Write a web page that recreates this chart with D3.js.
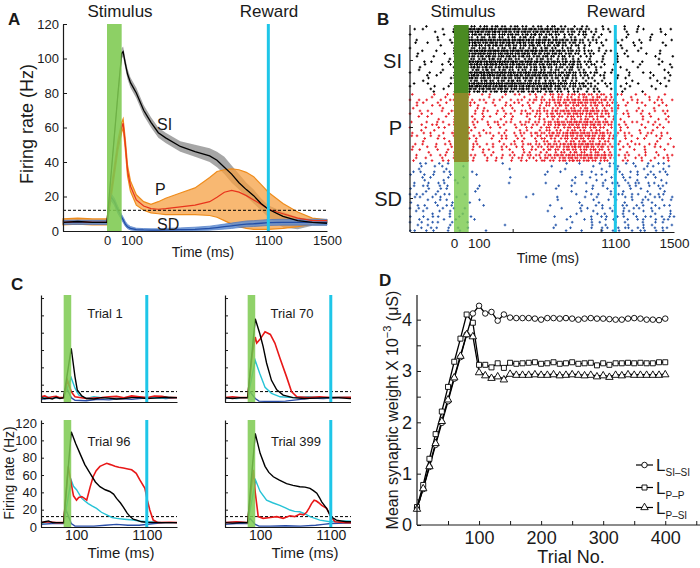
<!DOCTYPE html>
<html><head><meta charset="utf-8">
<script src="https://cdn.jsdelivr.net/npm/d3@7"></script>
<style>body{margin:0;background:#fff}svg{display:block}</style>
</head><body>
<svg id="c" width="700" height="568"></svg>
<script>
// ---------------- DATA ----------------
// Panel A: mean firing rate (Hz) with bands
const tA = [-300,-200,-100,0,25,50,75,100,110,125,140,160,200,250,300,350,400,500,600,700,750,800,850,900,950,1000,1050,1100,1200,1300,1400,1500];
const SI_mean = [5,5.5,5,5,30,55,80,103,104,97,91,86,80,70,63,57,54,49,46,43.5,41,37,33,28,24,20.5,16,12.6,8.5,6,5,4.5];
const SI_hi   = [6.5,7,6.5,6.5,32,58,83,106,107,100,94,89,83,73,66,60,57,52,50,48,46,43,38,33,28,24,19,15,11,8,6.5,6];
const SI_lo   = [4,4,4,4,28,52,77,100,101,94,88,83,77,67,60,54,51,46,43,40,37,33,28,24,20,16,12,8,2,1,3,3];
const P_mean  = [5,5.5,5,5,20,35,50,60,62.5,50,35,26,18,14.5,13,12.6,13,14,15,17,19.5,22.5,23.5,22.5,20.5,18,15.5,12.6,10,7.5,6,6];
const P_hi    = [7,7.5,7,7,23,38,53,63,65,53,38,29,21,17,15.5,17,19,22,25,31,34.5,35.5,36,35.5,34,31.5,27,22.5,16,11,7.5,6.5];
const P_lo    = [3.5,4,3.5,3.5,17,32,47,57,60,47,32,23,15,12,10.5,10,9.5,9.5,9.5,9,8,6,4,2.5,1.5,1,1,1,1.5,2.5,4,5];
const SD_mean = [5,5,5,5,20,17,12,8,6.5,4,2.5,1.5,0.8,0.6,0.5,0.5,0.6,0.8,1,1.5,2,2.5,3,3.5,4,4.2,4.5,4.8,5,5,5,5];
const SD_hi   = [6.2,6.2,6.2,6.2,22,19,14,9.5,8,5.5,3.8,2.6,1.6,1.4,1.3,1.3,1.5,1.8,2.2,2.8,3.4,4,4.6,5.2,5.8,6,6.3,6.6,6.8,6.8,6.8,6.8];
const SD_lo   = [3.8,3.8,3.8,3.8,18,15,10,6.5,5,2.8,1.4,0.6,0.2,0.1,0.1,0.1,0.1,0.2,0.3,0.5,0.8,1.1,1.5,2,2.4,2.6,2.9,3.2,3.4,3.4,3.4,3.4];

// Panel B: raster population rates (Hz per row) read from dot density
const rasterT = [-300,-200,-100,-1,0,100,200,300,400,500,600,700,800,900,1000,1100,1200,1300,1400,1500];
const rateSI  = [7,6,8,7,90,70,70,68,65,62,58,52,42,32,16,9,8,8,8,8];
const rateP   = [12,11,13,12,70,15,14,15,17,20,28,40,50,50,45,20,13,13,13,13];
const rateSD  = [12,12,12,12,10,2,1,1,1,1.2,2,4,6,8,11,13,13,13,13,12];
const rasterGroups = ["SI","P","SD"];

// Panel C: single-trial rates [time ms, Hz]
const trial1_SI = [[-300,5],[-250,4],[-200,4.5],[-150,3.5],[-100,5.5],[-50,4],[0,5],[100,62],[150,29],[180,14],[240,7],[300,4],[400,3.5],[500,5],[600,4.5],[700,3.5],[800,4],[900,5],[1000,5],[1100,4],[1200,4.5],[1350,5.5],[1500,5]];
const trial1_P  = [[-300,6],[-250,7],[-200,5],[-150,6],[-100,6.5],[-50,5],[0,5],[50,25],[100,12],[150,6],[300,4],[500,5],[600,6],[700,6.5],[800,5],[900,7],[1000,6],[1100,5],[1200,7],[1300,6.5],[1400,5],[1500,5]];
const trial1_C  = [[-300,4],[-200,5.5],[-100,5],[0,5],[100,28],[150,16],[200,8],[300,4],[400,6],[500,5],[650,4],[800,5],[950,6],[1100,5],[1300,4.5],[1500,5]];
const trial1_SD = [[-300,3],[-200,4],[-100,5],[0,5],[30,18],[100,5],[150,2],[300,1.5],[450,3],[600,2.5],[750,4],[900,3],[1000,4],[1200,5.5],[1350,4],[1500,5]];

const trial70_SI = [[-300,5],[-200,4],[-100,5],[0,5],[100,96],[160,79],[205,64],[250,45],[315,25],[385,14],[470,8],[600,5],[750,4],[900,4.5],[1050,5],[1200,5],[1350,4],[1500,5]];
const trial70_P  = [[-300,5],[-200,6],[-100,5],[0,5],[60,55],[100,75],[120,68],[160,72],[230,81],[300,78],[360,68],[430,50],[515,29],[580,12],[650,6],[800,5],[950,6],[1100,5],[1300,5.5],[1500,5]];
const trial70_C  = [[-300,5],[-150,4],[0,5],[100,48],[160,33],[230,17],[315,10],[430,6],[600,5],[800,6],[1000,5],[1200,5.5],[1500,5]];
const trial70_SD = [[-300,4],[-150,5],[0,5],[30,12],[100,4],[150,1],[300,0.5],[500,1],[700,3],[850,4.5],[1000,4],[1200,5],[1500,5]];

const trial96_SI = [[-300,5],[-250,6],[-200,7],[-150,5],[-100,5],[0,5],[100,110],[160,96],[215,85],[280,72],[350,62],[420,52],[480,46.5],[550,43],[610,41],[660,38],[700,33],[750,28],[790,23],[840,16],[880,12],[920,9],[965,8],[1030,6],[1100,5.5],[1300,5],[1500,5]];
const trial96_P  = [[-300,5],[-200,6],[-100,5],[0,5],[60,70],[100,50],[130,36],[170,31],[200,34],[240,35],[275,33],[305,31],[350,46],[390,58],[430,65],[480,70],[530,72],[570,73.5],[620,72],[680,70],[730,69],[790,68],[850,67],[900,66],[960,62],[1010,54],[1075,44.6],[1110,30],[1140,19.6],[1185,8],[1250,5],[1400,5.5],[1500,5]];
const trial96_C  = [[-300,4],[-200,6],[-100,5],[0,5],[100,54],[130,47],[170,43],[240,33],[280,30],[325,27],[380,24],[435,21.5],[500,17],[570,14],[640,11],[700,10],[800,9],[920,8],[1000,7],[1100,6],[1300,5],[1500,5]];
const trial96_SD = [[-300,3],[-150,4],[0,4],[30,20],[100,4],[150,1],[400,1],[550,2],[700,3],[850,2],[1000,2],[1200,4],[1350,5],[1500,5]];

const trial399_SI = [[-300,5],[-200,4.5],[-100,5],[0,5],[100,108],[165,85],[230,70],[280,63],[340,58],[420,54],[515,50],[600,48],[690,46.5],[760,46],[825,44.6],[870,42],[915,39],[950,34],[980,29],[1045,21.6],[1100,12],[1175,8],[1300,6],[1500,6]];
const trial399_P  = [[-300,5],[-150,6],[0,5],[75,66],[100,40],[140,12],[205,10],[300,11],[385,12],[470,10],[560,13],[620,12],[690,15],[740,14],[780,17],[815,22],[845,27],[880,31],[910,30],[940,28],[980,25],[1045,21.6],[1100,12],[1155,6],[1300,5],[1500,5]];
const trial399_C  = [[-300,5],[-150,6],[0,5],[105,54],[165,41],[250,31],[330,28],[425,25],[500,22],[560,19.6],[620,18],[690,17.6],[760,15],[825,12],[890,10],[955,8],[1090,6],[1300,7],[1500,6]];
const trial399_SD = [[-300,3],[-150,4],[0,4],[30,10],[100,3],[150,1],[300,1],[500,1.5],[700,1],[900,2],[1000,3],[1100,4],[1300,4.5],[1500,5]];

// Panel D: mean synaptic weight x 1e-3 (uS) vs trial
const trialsD = [0,10,20,30,40,50,60,70,80,90,100,110,120,130,140,150,160,170,180,190,200,210,220,230,240,250,260,270,280,290,300,310,320,330,340,350,360,370,380,390,400];
const L_SISI = [0.33,0.70,1.13,1.56,1.99,2.41,2.85,3.27,3.71,4.12,4.27,4.12,4.15,3.98,4.10,4.04,4.03,4.03,4.03,4.02,4.00,4.03,4.03,4.02,4.03,4.02,4.00,4.02,4.03,4.02,4.02,4.01,4.00,4.00,4.02,4.03,4.02,4.00,4.00,3.99,4.02];
const L_PP   = [0.35,0.78,1.29,1.77,2.21,2.69,3.18,3.63,4.10,3.94,3.12,3.12,3.07,3.15,3.06,3.16,3.14,3.15,3.16,3.17,3.14,3.15,3.17,3.14,3.15,3.17,3.14,3.15,3.16,3.11,3.15,3.12,3.15,3.15,3.16,3.15,3.16,3.15,3.15,3.17,3.17];
const L_PSI  = [0.32,0.72,1.15,1.60,2.03,2.45,2.88,3.30,3.72,3.68,2.98,2.92,2.87,2.90,2.84,2.95,2.93,2.93,2.93,2.94,2.93,2.93,2.94,2.92,2.93,2.94,2.93,2.92,2.93,2.90,2.92,2.89,2.93,2.92,2.94,2.93,2.93,2.93,2.93,2.93,2.94];

// ---------------- DRAW ----------------
const FONT = '"Liberation Sans", Arial, Helvetica, sans-serif';
const GREEN = "#7dca50", CYAN = "#1ec6e8", INK = "#1a1a1a";
const svg = d3.select("#c").attr("font-family", FONT);

function styleAxis(g, fs){
  g.attr("font-family", FONT).attr("font-size", fs);
  g.selectAll(".tick line").attr("stroke", INK);
  g.select(".domain").attr("stroke", INK).attr("stroke-width", 1.2);
  g.selectAll("text").attr("fill", INK);
}
function txt(x, y, s, fs, anchor, extra){
  const t = svg.append("text").attr("x", x).attr("y", y).attr("font-size", fs)
    .attr("text-anchor", anchor || "start").attr("fill", INK).text(s);
  if (extra) extra(t);
  return t;
}
const fmt = d3.format("d");

// ===== Panel A =====
(function(){
  const x = d3.scaleLinear().domain([-300,1500]).range([63,327]);
  const y = d3.scaleLinear().domain([0,120]).range([231,24]);
  const g = svg.append("g");
  const band = (lo, hi) => d3.area().x((d,i)=>x(tA[i])).y0((d,i)=>y(lo[i])).y1((d,i)=>y(hi[i]))(tA);
  const ln = v => d3.line().x((d,i)=>x(tA[i])).y((d,i)=>y(v[i]))(tA);
  g.append("path").attr("d", band(SI_lo, SI_hi)).attr("fill", "#9c9c9c").attr("opacity", 0.9);
  g.append("path").attr("d", band(P_lo, P_hi)).attr("fill", "#f5a043").attr("fill-opacity", 0.75)
    .attr("stroke", "#ef8c1c").attr("stroke-width", 1.2);
  g.append("path").attr("d", band(SD_lo, SD_hi)).attr("fill", "#5f8ed3").attr("opacity", 0.85)
    .attr("stroke", "#3f70c2").attr("stroke-width", 0.8);
  g.append("path").attr("d", ln(SD_mean)).attr("fill","none").attr("stroke","#234ea6").attr("stroke-width",1.3);
  g.append("path").attr("d", ln(P_mean)).attr("fill","none").attr("stroke","#e8341c").attr("stroke-width",1.2);
  g.append("path").attr("d", ln(SI_mean)).attr("fill","none").attr("stroke","#000").attr("stroke-width",1.3);
  g.append("line").attr("x1", x(-300)).attr("x2", x(1500)).attr("y1", y(12)).attr("y2", y(12))
    .attr("stroke","#000").attr("stroke-dasharray","3,2").attr("stroke-width",1);
  g.append("rect").attr("x", x(0)).attr("width", x(100)-x(0)).attr("y", 24).attr("height", 231-24)
    .attr("fill", GREEN).attr("opacity", 0.88);
  g.append("line").attr("x1", x(1100)).attr("x2", x(1100)).attr("y1", 24).attr("y2", 231)
    .attr("stroke", CYAN).attr("stroke-width", 3);
  const ay = g.append("g").attr("transform","translate(63,0)")
    .call(d3.axisLeft(y).tickValues(d3.range(0,121,20)).tickSize(-4).tickSizeOuter(0).tickPadding(4).tickFormat(fmt));
  styleAxis(ay, 13);
  const ax = g.append("g").attr("transform","translate(0,231)")
    .call(d3.axisBottom(x).tickValues([0,100,1100,1500]).tickSize(0).tickSizeOuter(0).tickPadding(5).tickFormat(fmt));
  styleAxis(ax, 13);
  ax.selectAll(".tick").filter(d=>d===100).select("text").attr("dx", 10);
  txt(8, 25, "A", 17, "start", t=>t.attr("font-weight","bold"));
  txt(120, 17, "Stimulus", 17, "middle");
  txt(269, 17, "Reward", 17, "middle");
  txt(157, 130, "SI", 16);
  txt(155, 195, "P", 16);
  txt(157, 230, "SD", 16);
  txt(203, 257, "Time (ms)", 14, "middle");
  svg.append("text").attr("transform","translate(33,124) rotate(-90)").attr("text-anchor","middle")
    .attr("font-size", 18).attr("fill", INK).text("Firing rate (Hz)");
})();

// ===== Panel B =====
(function(){
  const x = d3.scaleLinear().domain([-300,1500]).range([410,674]);
  const tops = [25, 93, 162], bots = [93, 162, 232];
  const rates = [rateSI, rateP, rateSD];
  const colors = ["#000000", "#e8202a", "#2a5aac"];
  const nRows = 25;
  rasterGroups.forEach((name, gi) => {
    const rate = d3.scaleLinear().domain(rasterT).range(rates[gi]);
    const y = d3.scaleLinear().domain([0, nRows]).range([tops[gi], bots[gi]]);
    let p = "";
    for (let r = 0; r < nRows; r++) {
      const f = 0.55 + 0.9 * ((r * 0.7548776662 + gi * 0.31) % 1);
      let acc = (r * 0.6180339887 + gi * 0.5) % 1, k = 0;
      let th = 0.4 + 1.2 * ((r * 0.4142135 + gi * 0.23) % 1);
      for (let t = -300; t <= 1500; t += 2) {
        acc += rate(t) * f * 0.002;
        if (acc >= th) {
          acc -= th; k++;
          th = 0.4 + 1.2 * ((k * 0.6180339887 + r * 0.4142135 + gi * 0.23) % 1);
          const px = x(t), py = y(r + 0.5);
          p += `M${(px-1.3).toFixed(1)},${py.toFixed(1)}h2.6M${px.toFixed(1)},${(py-1.3).toFixed(1)}v2.6`;
        }
      }
    }
    svg.append("path").attr("d", p).attr("stroke", colors[gi]).attr("stroke-width", 1).attr("fill","none");
  });
  const bandCols = ["#4a8a22", "#8e8a2a", GREEN];
  const bandOp = [1, 1, 0.82];
  tops.forEach((t,i) => svg.append("rect").attr("x", x(0)).attr("width", x(100)-x(0))
    .attr("y", t).attr("height", bots[i]-t).attr("fill", bandCols[i]).attr("opacity", bandOp[i]));
  svg.append("line").attr("x1", x(1100)).attr("x2", x(1100)).attr("y1", 25).attr("y2", 232)
    .attr("stroke", CYAN).attr("stroke-width", 3);
  const yB = d3.scaleOrdinal().domain(rasterGroups).range([60, 127, 198]);
  const ay = svg.append("g").attr("transform","translate(410,0)")
    .call(d3.axisLeft(yB).tickSize(-3).tickSizeOuter(0).tickPadding(8));
  ay.select(".domain").attr("d","M0,25V232");
  styleAxis(ay, 20);
  ay.selectAll("text").attr("dy","0.36em");
  const ax = svg.append("g").attr("transform","translate(0,232)")
    .call(d3.axisBottom(x).tickValues([0,100,400,1000,1100,1500]).tickSize(-3).tickSizeOuter(0).tickPadding(6)
      .tickFormat(d => (d===400||d===1000) ? "" : fmt(d)));
  styleAxis(ax, 13.5);
  ax.selectAll(".tick").filter(d=>d===0||d===100||d===1100||d===1500).select("line").remove();
  ax.selectAll(".tick").filter(d=>d===100).select("text").attr("dx", 10);
  txt(377, 25, "B", 17, "start", t=>t.attr("font-weight","bold"));
  txt(463, 17, "Stimulus", 17, "middle");
  txt(616, 17, "Reward", 17, "middle");
  txt(548, 263, "Time (ms)", 14, "middle");
})();

// ===== Panel C =====
svg.append("defs").append("clipPath").attr("id","clipC").append("rect")
  .attr("x",0).attr("y",280).attr("width",351).attr("height",288);
function trialPanel(x0, yB, label, lx, ser, showY, showX, titleX){
  const x = d3.scaleLinear().domain([-300,1500]).range([x0, x0+136]);
  const y = d3.scaleLinear().domain([0,123.5]).range([yB, yB-107]);
  const g = svg.append("g").attr("clip-path","url(#clipC)");
  g.append("line").attr("x1", x(-300)).attr("x2", x(1500)).attr("y1", y(12)).attr("y2", y(12))
    .attr("stroke","#000").attr("stroke-dasharray","3,2").attr("stroke-width",1);
  const ln = d3.line().x(d=>x(d[0])).y(d=>y(d[1]));
  const cols = ["#2a4ea8", "#27c3d6", "#e81818", "#000"];
  [ser[3], ser[2], ser[1], ser[0]].forEach((s,i) => g.append("path").attr("d", ln(s))
    .attr("fill","none").attr("stroke", cols[i]).attr("stroke-width", i===2 ? 1.6 : 1.4));
  g.append("rect").attr("x", x(0)).attr("width", x(100)-x(0)).attr("y", yB-107).attr("height", 107)
    .attr("fill", GREEN).attr("opacity", 0.85);
  g.append("line").attr("x1", x(1100)).attr("x2", x(1100)).attr("y1", yB-107).attr("y2", yB)
    .attr("stroke", CYAN).attr("stroke-width", 3);
  const ay = g.append("g").attr("transform",`translate(${x0},0)`)
    .call(d3.axisLeft(y).tickValues(d3.range(0,121,20)).tickSize(-3).tickSizeOuter(0).tickPadding(4)
      .tickFormat(showY ? fmt : () => ""));
  styleAxis(ay, 13);
  const ax = g.append("g").attr("transform",`translate(0,${yB})`)
    .call(d3.axisBottom(x).tickValues([100,1100]).tickSize(0).tickSizeOuter(0).tickPadding(3)
      .tickFormat(showX ? fmt : () => ""));
  styleAxis(ax, 14);
  ax.selectAll(".tick").filter(d=>d===100).select("text").attr("dx", 5);
  txt(lx, yB === 402 ? 318 : 446, label, 13, "middle");
  if (showX) txt(titleX, 558, "Time (ms)", 15, "middle");
}
trialPanel(41, 402, "Trial 1", 105, [trial1_SI, trial1_P, trial1_C, trial1_SD], false, false);
trialPanel(225, 402, "Trial 70", 292, [trial70_SI, trial70_P, trial70_C, trial70_SD], false, false);
trialPanel(41, 527, "Trial 96", 109, [trial96_SI, trial96_P, trial96_C, trial96_SD], true, true, 121);
trialPanel(225, 527, "Trial 399", 296, [trial399_SI, trial399_P, trial399_C, trial399_SD], false, true, 305);
txt(11, 290, "C", 17, "start", t=>t.attr("font-weight","bold"));
svg.append("text").attr("transform","translate(14,473) rotate(-90)").attr("text-anchor","middle")
  .attr("font-size", 14).attr("fill", INK).text("Firing rate (Hz)");

// ===== Panel D =====
(function(){
  const x = d3.scaleLinear().domain([0,456]).range([417,700]);
  const y = d3.scaleLinear().domain([0,4.48]).range([525,295]);
  const g = svg.append("g");
  const series = [L_SISI, L_PP, L_PSI];
  const ln = v => d3.line().x((d,i)=>x(trialsD[i])).y((d,i)=>y(v[i]))(trialsD);
  series.forEach(s => g.append("path").attr("d", ln(s)).attr("fill","none").attr("stroke","#000").attr("stroke-width",1.3));
  const sym = [d3.symbol(d3.symbolCircle, 24), d3.symbol(d3.symbolSquare, 25), d3.symbol(d3.symbolTriangle, 24)];
  series.forEach((s, si) => {
    g.selectAll(null).data(trialsD).enter().append("path")
      .attr("transform", (d,i) => `translate(${x(d)},${y(s[i]) + (si===2 ? 0.6 : 0)})`)
      .attr("d", sym[si]()).attr("fill","#fff").attr("stroke","#000").attr("stroke-width",0.9);
  });
  const ay = g.append("g").attr("transform","translate(417,0)")
    .call(d3.axisLeft(y).tickValues(d3.range(0,4.01,0.5)).tickSize(-4).tickSizeOuter(0).tickPadding(5)
      .tickFormat(d => Number.isInteger(d) ? d : ""));
  ay.select(".domain").attr("d","M0,525V295");
  styleAxis(ay, 18);
  const ax = g.append("g").attr("transform","translate(0,525)")
    .call(d3.axisBottom(x).tickValues(d3.range(50,451,50)).tickSize(-4).tickSizeOuter(0).tickPadding(6)
      .tickFormat(d => d % 100 === 0 ? d : ""));
  ax.select(".domain").attr("d","M417,0H700");
  styleAxis(ax, 18);
  txt(379, 286, "D", 17, "start", t=>t.attr("font-weight","bold"));
  txt(571, 563, "Trial No.", 18, "middle");
  const yl = svg.append("text").attr("transform","translate(398,410) rotate(-90)").attr("text-anchor","middle")
    .attr("font-size", 16).attr("fill", INK);
  yl.append("tspan").text("Mean synaptic weight X 10");
  yl.append("tspan").attr("font-size", 11).attr("dy", -7).text("−3");
  yl.append("tspan").attr("dy", 7).text(" (μS)");
  // legend
  const leg = [["SI–SI", 465], ["P–P", 487.5], ["P–SI", 507.5]];
  leg.forEach(([sub, ly], i) => {
    svg.append("line").attr("x1", 636).attr("x2", 653).attr("y1", ly).attr("y2", ly)
      .attr("stroke","#000").attr("stroke-width",1.2);
    svg.append("path").attr("transform", `translate(644.5,${ly})`).attr("d", sym[i]())
      .attr("fill","#fff").attr("stroke","#000").attr("stroke-width",0.9);
    const t = svg.append("text").attr("x", 656).attr("y", ly + 6).attr("font-size", 17).attr("fill", INK);
    t.append("tspan").text("L");
    t.append("tspan").attr("font-size", 10).attr("dy", 5).text(sub);
  });
})();
</script>
</body></html>
